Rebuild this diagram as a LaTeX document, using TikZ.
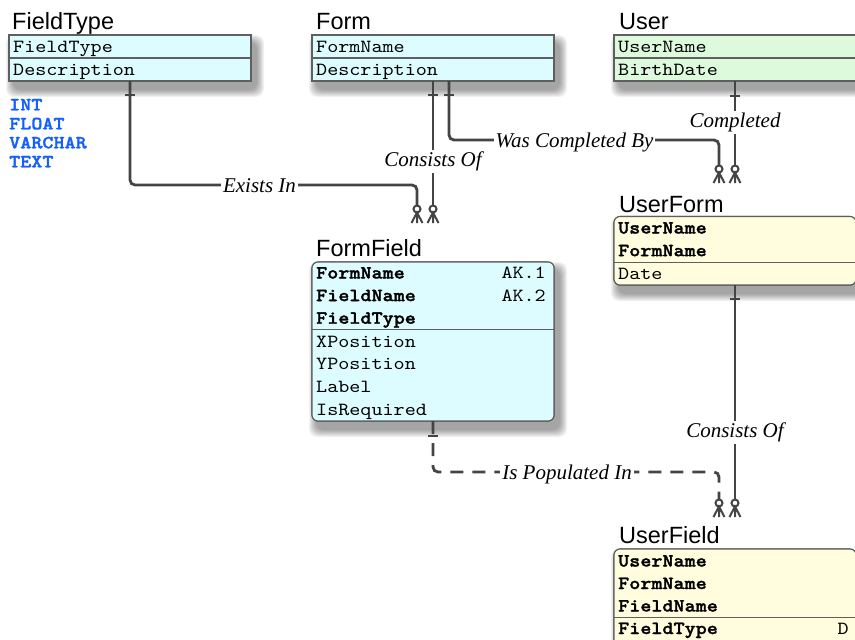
\documentclass[tikz,border=0pt]{standalone}
\usepackage{fontspec}
\setmainfont{Liberation Serif}
\setsansfont{Liberation Sans}
\setmonofont{lmmono10-regular.otf}[BoldFont=lmmonolt10-bold.otf, BoldFeatures={FakeBold=1.6}, FakeStretch=1.14]
\usetikzlibrary{calc}
\definecolor{cyanfill}{RGB}{221,252,255}
\definecolor{greenfill}{RGB}{221,250,221}
\definecolor{yellowfill}{RGB}{255,253,221}
\definecolor{edgecol}{RGB}{95,95,95}
\definecolor{conncol}{RGB}{68,68,68}
\definecolor{typeblue}{RGB}{20,95,255}
\newcommand\boxshadow[1]{%
  \foreach \e in {8,7,6,5,4,3,2,1}{%
    \fill[black,opacity=0.05,rounded corners=8pt] ($(#1.north west)+(5-\e,8-\e)$) rectangle ($(#1.south east)+(5+\e,8+\e)$);}}
\tikzset{
  ebox/.style={draw=edgecol, line width=1.1pt, anchor=north west, inner sep=0pt, outer sep=0pt},
  rbox/.style={ebox, rounded corners=6pt},
  divl/.style={draw=edgecol, line width=1.1pt},
  rowt/.style={anchor=base west, inner sep=0pt, font=\fontsize{18.5}{20}\selectfont\ttfamily},
  keyt/.style={anchor=base west, inner sep=0pt, font=\fontsize{18.5}{20}\selectfont\ttfamily\bfseries},
  akt/.style={anchor=base east, inner sep=0pt, font=\fontsize{18.5}{20}\selectfont\ttfamily},
  typet/.style={anchor=base west, inner sep=0pt, text=typeblue, font=\fontsize{18.5}{20}\selectfont\ttfamily\bfseries},
  titlet/.style={anchor=base west, inner sep=0pt, font=\fontsize{23.5}{26}\selectfont\sffamily},
  lab/.style={anchor=base, fill=white, inner xsep=2pt, inner ysep=2pt, text height=14pt, text depth=5pt, font=\fontsize{21}{24}\selectfont\itshape},
  conn/.style={draw=conncol, line width=2.8pt, rounded corners=5pt},
  dashconn/.style={conn, dash pattern=on 13pt off 9pt},
  onebar/.pic={\draw[conncol, line width=2.2pt] (-5,0) -- (5,0);},
  crowfoot/.pic={\draw[conncol, line width=2pt] (0,-14) circle[radius=3.5pt];
                 \draw[conncol, line width=2pt] (-5.5,0) -- (0,-10.5) -- (5.5,0) (0,-10.5) -- (0,0);}
}
\begin{document}
\begin{tikzpicture}[x=1pt,y=-1pt]
\useasboundingbox (0,0) rectangle (855,640);
\clip (0,0) rectangle (855,640);
\fill[white] (0,0) rectangle (855,640);

% ---------- boxes (shapes only, for shadows)
\path node[ebox, minimum width=242pt, minimum height=46pt] (ftbox) at (9,35) {};
\path node[ebox, minimum width=242pt, minimum height=46pt] (fmbox) at (312,35) {};
\path node[ebox, minimum width=242pt, minimum height=46pt] (usbox) at (614,35) {};
\path node[rbox, minimum width=242pt, minimum height=159pt] (ffbox) at (312,262) {};
\path node[rbox, minimum width=242pt, minimum height=68.5pt] (ufbox) at (614,216.5) {};
\path node[rbox, minimum width=242pt, minimum height=110pt] (ulbox) at (614,549) {};

\boxshadow{ftbox}\boxshadow{fmbox}\boxshadow{usbox}
\boxshadow{ffbox}\boxshadow{ufbox}\boxshadow{ulbox}

% ---------- FieldType
\node[ebox, fill=cyanfill, minimum width=242pt, minimum height=46pt] at (9,35) {};
\draw[divl] ($(ftbox.north west)+(0,23)$) -- ($(ftbox.north east)+(0,23)$);
\node[titlet] (ftT) at (12,29) {FieldType};
\node[rowt] (ft1) at (13,52) {FieldType};
\node[rowt] (ft2) at (13,75) {Description};
\node[typet] (ty1) at (9,110.3) {INT};
\node[typet] (ty2) at (9,129.3) {FLOAT};
\node[typet] (ty3) at (9,148.3) {VARCHAR};
\node[typet] (ty4) at (9,167.3) {TEXT};

% ---------- Form
\node[ebox, fill=cyanfill, minimum width=242pt, minimum height=46pt] at (312,35) {};
\draw[divl] ($(fmbox.north west)+(0,23)$) -- ($(fmbox.north east)+(0,23)$);
\node[titlet] (fmT) at (316,29) {Form};
\node[rowt] (fm1) at (316,52) {FormName};
\node[rowt] (fm2) at (316,75) {Description};

% ---------- User
\node[ebox, fill=greenfill, minimum width=242pt, minimum height=46pt] at (614,35) {};
\draw[divl] ($(usbox.north west)+(0,23)$) -- ($(usbox.north east)+(0,23)$);
\node[titlet] (usT) at (619,29) {User};
\node[rowt] (us1) at (618,52) {UserName};
\node[rowt] (us2) at (618,75) {BirthDate};

% ---------- FormField
\node[rbox, fill=cyanfill, minimum width=242pt, minimum height=159pt] at (312,262) {};
\draw[divl] ($(ffbox.north west)+(0,67.5)$) -- ($(ffbox.north east)+(0,67.5)$);
\node[titlet] (ffT) at (316,256) {FormField};
\node[keyt] (ff1) at (316,278.5) {FormName};
\node[keyt] (ff2) at (316,301.1) {FieldName};
\node[keyt] (ff3) at (316,323.7) {FieldType};
\node[akt] (ak1) at (546,278.5) {AK.1};
\node[akt] (ak2) at (546,301.1) {AK.2};
\node[rowt] (ff4) at (316,347.2) {XPosition};
\node[rowt] (ff5) at (316,369.8) {YPosition};
\node[rowt] (ff6) at (316,392.4) {Label};
\node[rowt] (ff7) at (316,415) {IsRequired};

% ---------- UserForm
\node[rbox, fill=yellowfill, minimum width=242pt, minimum height=68.5pt] at (614,216.5) {};
\draw[divl] ($(ufbox.north west)+(0,45.8)$) -- ($(ufbox.north east)+(0,45.8)$);
\node[titlet] (ufT) at (619,212) {UserForm};
\node[keyt] (uf1) at (618,233.5) {UserName};
\node[keyt] (uf2) at (618,256.2) {FormName};
\node[rowt] (uf3) at (618,279.5) {Date};

% ---------- UserField
\node[rbox, fill=yellowfill, minimum width=242pt, minimum height=110pt] at (614,549) {};
\draw[divl] ($(ulbox.north west)+(0,68.3)$) -- ($(ulbox.north east)+(0,68.3)$);
\node[titlet] (ulT) at (619,543) {UserField};
\node[keyt] (ul1) at (618,566.5) {UserName};
\node[keyt] (ul2) at (618,589) {FormName};
\node[keyt] (ul3) at (618,611.5) {FieldName};
\node[keyt] (ul4) at (618,634) {FieldType};
\node[akt] (ulD) at (849,634) {D};

% ---------- connector end points (crow's feet tips)
\coordinate (ffA) at (417,223);
\coordinate (ffB) at (433,223);
\coordinate (ufA) at (719,183);
\coordinate (ufB) at (735,183);
\coordinate (ulA) at (719,517);
\coordinate (ulB) at (735,517);

% ---------- connectors
\draw[conn] (ftbox.south) |- ($(ffA)+(0,-38)$) -- ($(ffA)+(0,-17.5)$);
\draw[conn] (fmbox.south) -- ($(ffB)+(0,-17.5)$);
\draw[conn] ($(fmbox.south)+(16,0)$) |- ($(ufA)+(0,-43)$) -- ($(ufA)+(0,-17.5)$);
\draw[conn] (usbox.south) -- ($(ufB)+(0,-17.5)$);
\draw[conn] (ufbox.south) -- ($(ulB)+(0,-17.5)$);
\draw[dashconn] (ffbox.south) |- ($(ulA)+(0,-45)$) -- ($(ulA)+(0,-17.5)$);

% bars (one)
\pic at ($(ftbox.south)+(0,14)$) {onebar};
\pic at ($(fmbox.south)+(0,14)$) {onebar};
\pic at ($(fmbox.south)+(16,14)$) {onebar};
\pic at ($(usbox.south)+(0,15)$) {onebar};
\pic at ($(ufbox.south)+(0,14)$) {onebar};
\pic at ($(ffbox.south)+(0,15)$) {onebar};

% crow's feet (many)
\pic at (ffA) {crowfoot};
\pic at (ffB) {crowfoot};
\pic at (ufA) {crowfoot};
\pic at (ufB) {crowfoot};
\pic at (ulA) {crowfoot};
\pic at (ulB) {crowfoot};

% ---------- labels
\node[lab] (l1) at (259.5,192.5) {Exists In};
\node[lab] (l2) at (433,166) {Consists Of};
\node[lab] (l3) at (574.5,147.5) {Was Completed By};
\node[lab] (l4) at (735,127) {Completed};
\node[lab] (l5) at (735,437) {Consists Of};
\node[lab] (l6) at (567,479) {Is Populated In};
\end{tikzpicture}
\end{document}
